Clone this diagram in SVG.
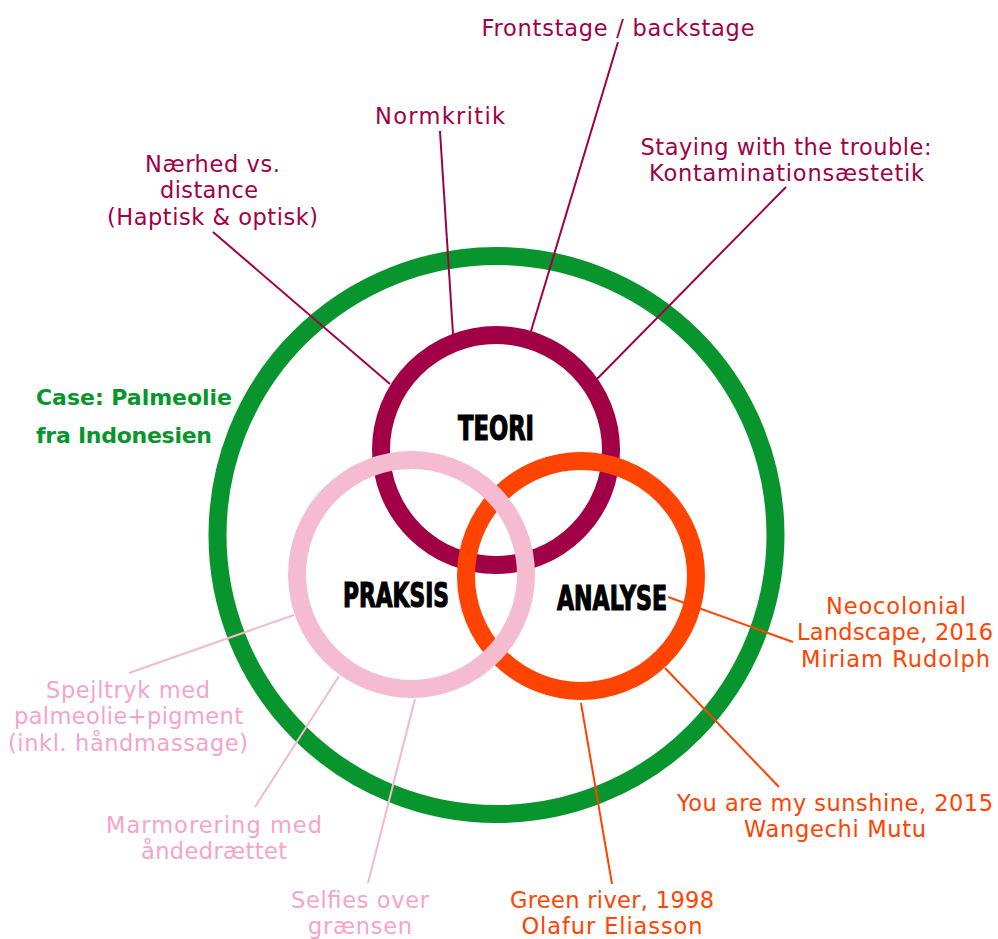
<svg xmlns="http://www.w3.org/2000/svg" width="998" height="939" viewBox="0 0 998 939">
<style>
.ring{fill:none;stroke-width:18}
.lbl{font-family:"DejaVu Sans","Liberation Sans",sans-serif;font-size:22.5px;text-anchor:middle}
.m{fill:#a10046}
.o{fill:#ff4300}
.p{fill:#f7a3c9}
.big{font-family:"DejaVu Sans Condensed","DejaVu Sans",sans-serif;font-weight:bold;font-size:34px;fill:#000;stroke:#000;stroke-width:1.2;text-anchor:middle}
.case{font-family:"DejaVu Sans","Liberation Sans",sans-serif;font-weight:bold;font-size:22px;fill:#08952e}
.cm{stroke:#a10046;stroke-width:2;fill:none}
.co{stroke:#ff4300;stroke-width:2;fill:none}
.cp{stroke:#f5b8d0;stroke-width:2;fill:none}
</style>
<rect width="998" height="939" fill="#fff"/>
<g id="case">
<circle class="ring" cx="496.5" cy="535" r="279" stroke="#08952e"/>
<text class="case" x="36" y="405" textLength="196">Case: Palmeolie</text>
<text class="case" x="36" y="443" textLength="176">fra Indonesien</text>
</g>
<g id="teori">
<circle class="ring" cx="496" cy="450" r="115" stroke="#a10046"/>
<text class="big" x="496" y="440" textLength="76" lengthAdjust="spacingAndGlyphs">TEORI</text>
</g>
<g id="analyse">
<circle class="ring" cx="581" cy="576" r="115" stroke="#ff4300"/>
<text class="big" x="612" y="610" textLength="110" lengthAdjust="spacingAndGlyphs">ANALYSE</text>
</g>
<g id="praksis">
<circle class="ring" cx="411.5" cy="574.5" r="114.5" stroke="#f5bcd1"/>
<text class="big" x="396" y="607" textLength="106" lengthAdjust="spacingAndGlyphs">PRAKSIS</text>
</g>
<g id="connectors">
<line class="cm" x1="213" y1="232" x2="390" y2="384"/>
<line class="cm" x1="440" y1="131" x2="453" y2="334"/>
<line class="cm" x1="618" y1="42" x2="531" y2="331"/>
<line class="cm" x1="786" y1="187" x2="597" y2="379"/>
<line class="co" x1="668" y1="597" x2="793" y2="642"/>
<line class="co" x1="665" y1="668" x2="779" y2="787"/>
<line class="co" x1="581" y1="703" x2="612" y2="884"/>
<line class="cp" x1="129" y1="673" x2="294" y2="615"/>
<line class="cp" x1="255" y1="807" x2="339" y2="676"/>
<line class="cp" x1="368" y1="883" x2="415" y2="699"/>
</g>
<g id="frontstage">
<text class="lbl m" x="618" y="36" textLength="273">Frontstage / backstage</text>
</g>
<g id="normkritik">
<text class="lbl m" x="440" y="124" textLength="130">Normkritik</text>
</g>
<g id="naerhed">
<text class="lbl m" x="212.5" y="172" textLength="135">Nærhed vs.</text>
<text class="lbl m" x="209" y="198.3" textLength="98">distance</text>
<text class="lbl m" x="212.5" y="224.6" textLength="211">(Haptisk &amp; optisk)</text>
</g>
<g id="staying">
<text class="lbl m" x="786" y="155" textLength="291">Staying with the trouble:</text>
<text class="lbl m" x="786.5" y="181.3" textLength="275">Kontaminationsæstetik</text>
</g>
<g id="neocolonial">
<text class="lbl o" x="896" y="614" textLength="140">Neocolonial</text>
<text class="lbl o" x="895" y="640.3" textLength="196">Landscape, 2016</text>
<text class="lbl o" x="895.5" y="666.6" textLength="189">Miriam Rudolph</text>
</g>
<g id="sunshine">
<text class="lbl o" x="835" y="811" textLength="316">You are my sunshine, 2015</text>
<text class="lbl o" x="835" y="837.3" textLength="182">Wangechi Mutu</text>
</g>
<g id="greenriver">
<text class="lbl o" x="612" y="907.7" textLength="204">Green river, 1998</text>
<text class="lbl o" x="612" y="934" textLength="181">Olafur Eliasson</text>
</g>
<g id="spejltryk">
<text class="lbl p" x="128" y="698" textLength="164">Spejltryk med</text>
<text class="lbl p" x="128.5" y="724.3" textLength="229">palmeolie+pigment</text>
<text class="lbl p" x="128" y="750.6" textLength="240">(inkl. håndmassage)</text>
</g>
<g id="marmorering">
<text class="lbl p" x="214" y="832.5" textLength="216">Marmorering med</text>
<text class="lbl p" x="214" y="858.8" textLength="146">åndedrættet</text>
</g>
<g id="selfies">
<text class="lbl p" x="360" y="907.7" textLength="138">Selfies over</text>
<text class="lbl p" x="360" y="934" textLength="104">grænsen</text>
</g>
</svg>
